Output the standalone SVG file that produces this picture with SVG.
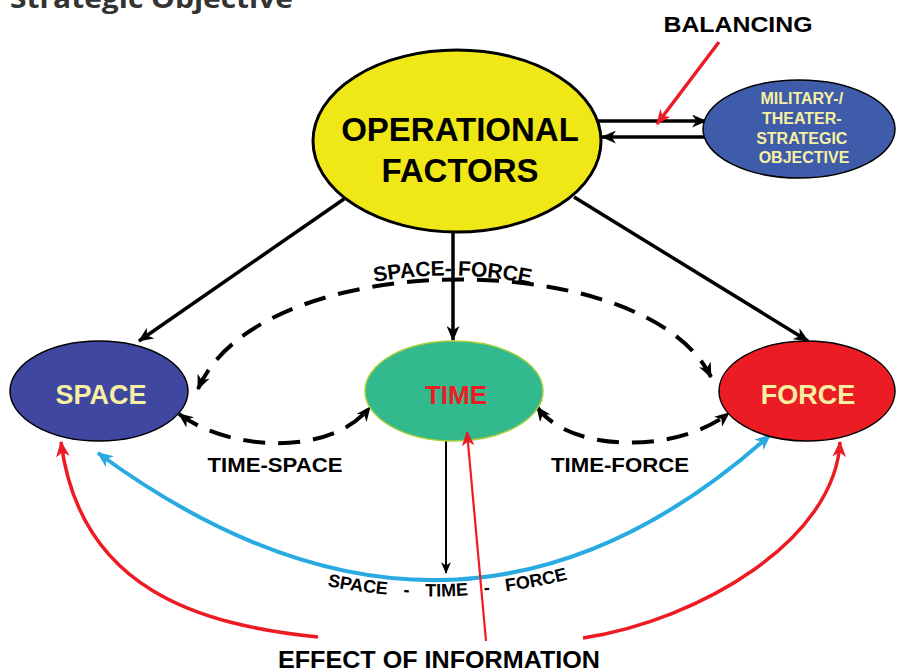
<svg xmlns="http://www.w3.org/2000/svg" width="897" height="671" viewBox="0 0 897 671">
  <style>
    .t { font-family: "Liberation Sans", Arial, sans-serif; font-weight: bold; }
    .blk { stroke: #000; fill: none; stroke-width: 3.5; }
    .dash { stroke: #000; fill: none; stroke-width: 4; stroke-dasharray: 22 13; }
    .red { stroke: #ed1c24; fill: none; stroke-width: 3.5; }
    .blue { stroke: #29abe2; fill: none; stroke-width: 4; }
    .pale { fill: #f7f0a3; }
  </style>
  <defs>
    <marker id="ab" viewBox="0 0 14 12" refX="13" refY="6" markerWidth="15" markerHeight="13" orient="auto-start-reverse" markerUnits="userSpaceOnUse">
      <path d="M0,0 L14,6 L0,12 L4,6 z" fill="#000"/>
    </marker>
    <marker id="abs" viewBox="0 0 14 12" refX="13" refY="6" markerWidth="12" markerHeight="10" orient="auto-start-reverse" markerUnits="userSpaceOnUse">
      <path d="M0,0 L14,6 L0,12 L4,6 z" fill="#000"/>
    </marker>
    <marker id="ar" viewBox="0 0 14 12" refX="13" refY="6" markerWidth="15" markerHeight="13" orient="auto" markerUnits="userSpaceOnUse">
      <path d="M0,0 L14,6 L0,12 L4,6 z" fill="#ed1c24"/>
    </marker>
    <marker id="arb" viewBox="0 0 14 12" refX="13" refY="6" markerWidth="16" markerHeight="14" orient="auto" markerUnits="userSpaceOnUse">
      <path d="M0,0 L14,6 L0,12 L4,6 z" fill="#ed1c24"/>
    </marker>
    <marker id="abl" viewBox="0 0 14 12" refX="13" refY="6" markerWidth="16" markerHeight="14" orient="auto-start-reverse" markerUnits="userSpaceOnUse">
      <path d="M0,0 L14,6 L0,12 L4,6 z" fill="#29abe2"/>
    </marker>
    <path id="sfPath" d="M365,284 Q452,266 540,286"/>
    <path id="stfPath" d="M318,584 Q446,612 577,577"/>
  </defs>

  <text x="10" y="8" font-family="'Open Sans', 'Noto Sans', sans-serif" font-weight="bold" font-size="26" fill="#333" textLength="283" lengthAdjust="spacingAndGlyphs">Strategic Objective</text>

  <g id="connectors">
    <line class="blk" x1="344" y1="199" x2="139" y2="341" marker-end="url(#ab)"/>
    <line class="blk" x1="453" y1="232" x2="453" y2="340" marker-end="url(#ab)"/>
    <line class="blk" x1="574" y1="197" x2="808" y2="341" marker-end="url(#ab)"/>
    <line class="blk" x1="598" y1="121" x2="706" y2="121" marker-end="url(#ab)"/>
    <line class="blk" x1="710" y1="137" x2="602" y2="137" marker-end="url(#ab)"/>
    <line class="red" x1="719" y1="42" x2="657" y2="124" marker-end="url(#ar)"/>
    <path class="dash" d="M198,389 C260,245 646,245 711,377" marker-start="url(#ab)" marker-end="url(#ab)"/>
    <path class="dash" d="M179,414 C230,452 332,456 370,407" marker-start="url(#ab)" marker-end="url(#ab)"/>
    <path class="dash" d="M537,407 C572,455 680,452 729,413" marker-start="url(#ab)" marker-end="url(#ab)"/>
    <line stroke="#000" stroke-width="2" x1="446" y1="441" x2="446" y2="573" marker-end="url(#abs)"/>
    <path class="blue" d="M770,435 Q456,716 98,453" marker-start="url(#abl)" marker-end="url(#abl)"/>
    <path class="red" d="M318,637 C200,625 80,590 61,442" marker-end="url(#arb)"/>
    <path class="red" d="M583,638 C700,620 835,540 840,442" marker-end="url(#arb)"/>
  </g>

  <g id="node-operational-factors">
    <ellipse cx="457" cy="141" rx="144" ry="91" fill="#f0e816" stroke="#000" stroke-width="3"/>
    <text class="t" x="460" y="141" font-size="33" text-anchor="middle" fill="#000">OPERATIONAL</text>
    <text class="t" x="460" y="182" font-size="33" text-anchor="middle" fill="#000">FACTORS</text>
  </g>

  <g id="node-objective">
    <ellipse cx="799" cy="129" rx="96" ry="49" fill="#3e5ca9" stroke="#000" stroke-width="1.5"/>
    <text class="t pale" font-size="16" text-anchor="middle">
      <tspan x="804" y="104">MILITARY-/</tspan>
      <tspan x="804" y="124">THEATER-</tspan>
      <tspan x="804" y="144">STRATEGIC</tspan>
      <tspan x="804" y="163">OBJECTIVE</tspan>
    </text>
  </g>

  <g id="label-balancing">
    <text class="t" x="738" y="32" font-size="22" text-anchor="middle" fill="#000" textLength="149" lengthAdjust="spacingAndGlyphs">BALANCING</text>
  </g>

  <g id="node-space">
    <ellipse cx="99" cy="391" rx="89" ry="50" fill="#3f47a0" stroke="#000" stroke-width="1.5"/>
    <text class="t pale" x="101" y="404" font-size="27" text-anchor="middle">SPACE</text>
  </g>

  <g id="node-time">
    <ellipse cx="454" cy="391" rx="89" ry="50" fill="#33b98e" stroke="#a6ce39" stroke-width="1.5"/>
    <text class="t" x="456" y="404" font-size="26" text-anchor="middle" fill="#ed1c24">TIME</text>
  </g>

  <g id="node-force">
    <ellipse cx="807" cy="391" rx="88" ry="50" fill="#ec1c24" stroke="#000" stroke-width="1.5"/>
    <text class="t pale" x="808" y="404" font-size="27" text-anchor="middle">FORCE</text>
  </g>

  <g id="red-info-line">
    <line stroke="#ed1c24" stroke-width="2.2" x1="486" y1="641" x2="467" y2="432" marker-end="url(#ar)"/>
  </g>

  <g id="labels">
    <text class="t" font-size="21" fill="#000"><textPath href="#sfPath" startOffset="50%" text-anchor="middle">SPACE- FORCE</textPath></text>
    <text class="t" x="275" y="472" font-size="21" text-anchor="middle" fill="#000" textLength="135" lengthAdjust="spacingAndGlyphs">TIME-SPACE</text>
    <text class="t" x="620" y="472" font-size="21" text-anchor="middle" fill="#000" textLength="138" lengthAdjust="spacingAndGlyphs">TIME-FORCE</text>
    <text class="t" font-size="18" fill="#000" word-spacing="11"><textPath href="#stfPath" startOffset="50%" text-anchor="middle">SPACE - TIME - FORCE</textPath></text>
    <text class="t" x="439" y="668" font-size="23" text-anchor="middle" fill="#000" textLength="322" lengthAdjust="spacingAndGlyphs">EFFECT OF INFORMATION</text>
  </g>
</svg>
